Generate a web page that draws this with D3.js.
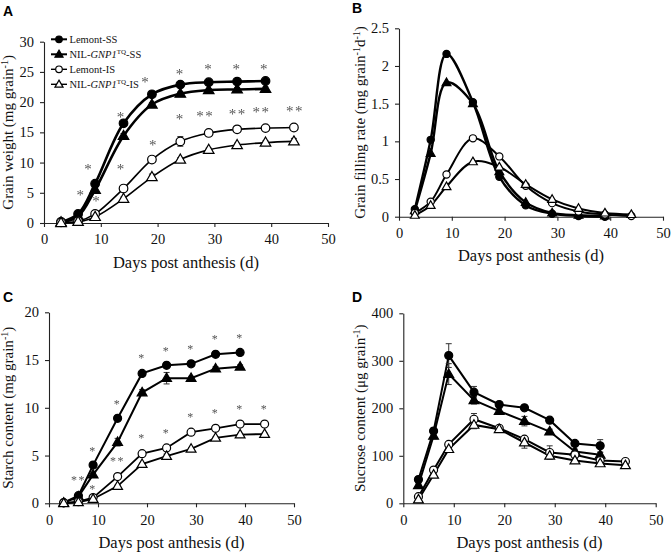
<!DOCTYPE html>
<html><head><meta charset="utf-8">
<script src="https://cdn.jsdelivr.net/npm/d3@7"></script>
<style>body{margin:0;background:#fff}svg{display:block}</style>
</head><body>
<script>
// ---------- DATA ----------
const days = [3, 6, 9, 14, 19, 24, 29, 34, 39, 44];
const seriesNames = ["Lemont-SS", "NIL-SS", "Lemont-IS", "NIL-IS"];

// A: grain weight (mg grain-1)
const weightLemontSS = [0.2, 1.5, 6.5, 16.5, 21.3, 22.9, 23.3, 23.4, 23.5, null];
const weightNilSS    = [0.1, 1.1, 5.5, 14.4, 19.6, 21.4, 22.0, 22.1, 22.2, null];
const weightLemontIS = [0.1, 0.3, 1.5, 5.7, 10.5, 13.5, 14.9, 15.5, 15.7, 15.8];
const weightNilIS    = [0.0, 0.2, 1.0, 4.0, 7.6, 10.5, 12.1, 12.9, 13.3, 13.5];
const weightErrLemontSS = [0.2, 0.2, 0.3, 0.3, 0.3, 0.3, 0.2, 0.3, 0.3, null];
const weightErrNilSS    = [0.1, 0.2, 0.3, 0.4, 0.3, 0.3, 0.2, 0.3, 0.3, null];
const weightErrLemontIS = [0.1, 0.1, 0.2, 0.3, 0.3, 0.8, 0.3, 0.3, 0.3, 0.4];
const weightErrNilIS    = [0.1, 0.1, 0.2, 0.3, 0.5, 0.3, 0.3, 0.3, 0.3, 0.5];
const weightStarDays = [6.5, 7.9, 9.3, 13.6, 13.6, 17.9, 19.3, 24, 24, 29, 28.4, 34, 34.1, 38.8, 38.3, 44.2];
const weightStarVals = [5.1, 9.4, 4.1, 17.9, 9.4, 23.7, 13.3, 25.0, 17.6, 25.9, 18.2, 25.9, 18.5, 25.9, 18.7, 19.0];
const weightStarText = ["*","*","*","*","*","*","*","*","*","*","**","*","**","*","**","**"];

// B: grain filling rate (mg grain-1 d-1)
const rateLemontSS = [0.10, 1.02, 2.16, 1.52, 0.53, 0.15, 0.04, 0.01, 0.00, null];
const rateNilSS    = [0.08, 0.84, 1.78, 1.50, 0.60, 0.19, 0.05, 0.02, 0.01, null];
const rateLemontIS = [0.05, 0.20, 0.56, 1.04, 0.80, 0.41, 0.18, 0.07, 0.03, 0.01];
const rateNilIS    = [0.02, 0.15, 0.40, 0.73, 0.66, 0.43, 0.23, 0.11, 0.05, 0.03];

// C: starch content (mg grain-1)
const starchLemontSS = [0.07, 0.8, 4.0, 8.9, 13.6, 14.45, 14.6, 15.6, 15.8, null];
const starchNilSS    = [0.05, 0.7, 3.0, 6.4, 11.6, 13.1, 13.1, 14.1, 14.3, null];
const starchLemontIS = [0.05, 0.17, 0.6, 2.8, 5.2, 5.8, 7.45, 7.85, 8.3, 8.3];
const starchNilIS    = [0.0, 0.1, 0.45, 1.8, 4.1, 4.95, 5.7, 6.85, 7.2, 7.25];
const starchErrLemontSS = [0.1, 0.1, 0.2, 0.2, 0.2, 0.2, 0.2, 0.2, 0.2, null];
const starchErrNilSS    = [0.1, 0.1, 0.2, 0.4, 0.3, 0.6, 0.2, 0.2, 0.2, null];
const starchErrLemontIS = [0.0, 0.1, 0.1, 0.1, 0.1, 0.2, 0.1, 0.1, 0.1, 0.1];
const starchErrNilIS    = [0.0, 0.1, 0.1, 0.1, 0.1, 0.2, 0.1, 0.1, 0.1, 0.1];
const starchStarDays = [6, 9, 9, 14, 14, 19, 19, 24, 24, 29, 29, 34, 34, 39, 39, 44];
const starchStarVals = [2.7, 5.7, 1.7, 4.6, 10.6, 15.4, 7.0, 16.2, 7.6, 16.4, 9.25, 17.4, 9.7, 17.5, 10.05, 10.05];
const starchStarText = ["**","*","*","**","*","*","*","*","*","*","*","*","*","*","*","*"];

// D: sucrose content (µg grain-1)
const sucroseLemontSS = [50, 152, 311, 234, 208, 201, 175, 126, 121, null];
const sucroseNilSS    = [38, 142, 272, 217, 194, 173, 151, 109, 102, null];
const sucroseLemontIS = [14, 70, 124, 177, 158, 135, 107, 102, 90, 88];
const sucroseNilIS    = [8, 60, 114, 165, 156, 128, 100, 90, 84, 80];
const sucroseErrLemontSS = [4, 6, 25, 12, 5, 5, 6, 5, 13, null];
const sucroseErrNilSS    = [3, 6, 22, 8, 6, 10, 5, 5, 5, null];
const sucroseErrLemontIS = [3, 5, 5, 12, 5, 5, 14, 5, 5, 4];
const sucroseErrNilIS    = [2, 4, 5, 8, 5, 12, 7, 5, 5, 4];

const xTicks = [0, 10, 20, 30, 40, 50];
const yTicksA = [0, 5, 10, 15, 20, 25, 30];
const yTicksB = [0, 0.5, 1, 1.5, 2, 2.5];
const yTicksC = [0, 5, 10, 15, 20];
const yTicksD = [0, 100, 200, 300, 400];

// ---------- DRAW ----------
const W = 671, H = 553;
const SERIF = "'Liberation Serif','Times New Roman',Times,serif";
const SANS = "'Liberation Sans',Arial,Helvetica,sans-serif";
const svg = d3.select("body").append("svg").attr("width", W).attr("height", H)
  .attr("font-family", SERIF);
// identity filter -> grayscale anti-aliasing for the gray asterisks
svg.append("defs").append("filter").attr("id", "flat")
  .append("feOffset").attr("dx", 0).attr("dy", 0);

const styles = [
  {fill: "#000", shape: "circle", heavy: true},
  {fill: "#000", shape: "triangle", heavy: true},
  {fill: "#fff", shape: "circle", heavy: false},
  {fill: "#fff", shape: "triangle", heavy: false}
];

function drawPanel(p) {
  const x = d3.scaleLinear().domain([0, 50]).range([p.x0, p.x1]);
  const y = d3.scaleLinear().domain([0, p.ymax]).range([p.y0, p.y1]);
  const g = svg.append("g");

  const xa = g.append("g").attr("transform", `translate(0,${p.y0})`)
    .call(d3.axisBottom(x).tickValues(xTicks).tickSize(4).tickPadding(7).tickSizeOuter(0).tickFormat(d3.format("~g")));
  const ya = g.append("g").attr("transform", `translate(${p.x0},0)`)
    .call(d3.axisLeft(y).tickValues(p.yticks).tickSize(4).tickPadding(6).tickSizeOuter(0).tickFormat(d3.format("~g")));
  [xa, ya].forEach(a => {
    a.attr("font-family", SERIF).attr("font-size", 14.5);
    a.selectAll("text").attr("font-family", SERIF).attr("font-size", 14.5).attr("fill", "#111");
    a.selectAll("line,path").attr("stroke", "#222").attr("stroke-width", 1.1);
  });

  // axis titles
  g.append("text").attr("x", (p.x0 + p.x1) / 2).attr("y", p.y0 + 44.5)
    .attr("text-anchor", "middle").attr("font-size", 16.5).attr("fill", "#111")
    .text("Days post anthesis (d)");
  const yt = g.append("text")
    .attr("transform", `translate(${p.ytx},${(p.y0 + p.y1) / 2}) rotate(-90)`)
    .attr("text-anchor", "middle").attr("font-size", 15).attr("fill", "#111");
  p.ytitle.forEach(part => {
    const t = yt.append("tspan").text(part.t);
    if (part.sup) t.attr("baseline-shift", "super").attr("font-size", 10);
  });

  // panel letter
  svg.append("text").attr("x", p.lx).attr("y", p.ly).attr("font-family", SANS)
    .attr("font-weight", "bold").attr("font-size", 14).text(p.letter);

  const curve = p.smooth ? d3.curveCatmullRom.alpha(0.5) : d3.curveLinear;

  p.series.forEach((vals, i) => {
    const pts = days.map((d, k) => ({d, v: vals[k], e: p.errs ? p.errs[i][k] : null}))
      .filter(o => o.v != null);
    const st = styles[i];
    pts.filter(o => o.e).forEach(o => {
      const cx = x(o.d), yT = y(o.v + o.e), yB = y(Math.max(0, o.v - o.e));
      g.append("line").attr("x1", cx).attr("x2", cx).attr("y1", yT).attr("y2", yB)
        .attr("stroke", "#333").attr("stroke-width", 1);
      [yT, yB].forEach(yy => g.append("line").attr("x1", cx - 3).attr("x2", cx + 3)
        .attr("y1", yy).attr("y2", yy).attr("stroke", "#333").attr("stroke-width", 1));
    });
    g.append("path").datum(pts)
      .attr("d", d3.line().x(o => x(o.d)).y(o => y(o.v)).curve(curve))
      .attr("fill", "none").attr("stroke", "#000")
      .attr("stroke-width", st.heavy ? p.lwHeavy : p.lwLight);
  });
  p.series.forEach((vals, i) => {
    const st = styles[i];
    const pts = days.map((d, k) => ({d, v: vals[k]})).filter(o => o.v != null);
    pts.forEach(o => drawMarker(g, x(o.d), y(o.v), st, p.ms));
  });

  if (p.stars) {
    const sg = g.append("g").attr("filter", "url(#flat)");
    p.stars.days.forEach((d, k) => {
      sg.append("text").attr("x", x(d)).attr("y", y(p.stars.vals[k]) + p.stars.fs * 0.5)
        .attr("text-anchor", "middle").attr("font-size", p.stars.fs)
        .attr("fill", "#555").attr("letter-spacing", 1.5).text(p.stars.text[k]);
    });
  }
  return {x, y, g};
}

function drawMarker(g, cx, cy, st, ms) {
  if (st.shape === "circle") {
    g.append("circle").attr("cx", cx).attr("cy", cy).attr("r", ms)
      .attr("fill", st.fill).attr("stroke", "#000").attr("stroke-width", 1.2);
  } else {
    const size = ms * ms * 2.6;
    g.append("path").attr("d", d3.symbol(d3.symbolTriangle, size)())
      .attr("transform", `translate(${cx},${cy + 0.5})`)
      .attr("fill", st.fill).attr("stroke", "#000").attr("stroke-width", 1.2);
  }
}

drawPanel({
  letter: "A", lx: 3, ly: 16,
  x0: 44, x1: 328, y0: 223, y1: 41.7, ymax: 30, yticks: yTicksA, ytx: 13,
  ytitle: [{t: "Grain weight (mg grain"}, {t: "-1", sup: true}, {t: ")"}],
  series: [weightLemontSS, weightNilSS, weightLemontIS, weightNilIS],
  errs: [weightErrLemontSS, weightErrNilSS, weightErrLemontIS, weightErrNilIS],
  smooth: true, lwHeavy: 2.6, lwLight: 1.6, ms: 4.3,
  stars: {days: weightStarDays, vals: weightStarVals, text: weightStarText, fs: 15}
});

drawPanel({
  letter: "B", lx: 352, ly: 13,
  x0: 399, x1: 663, y0: 216.7, y1: 28.3, ymax: 2.5, yticks: yTicksB, ytx: 365,
  ytitle: [{t: "Grain filling rate (mg grain"}, {t: "-1", sup: true}, {t: "d"}, {t: "-1", sup: true}, {t: ")"}],
  series: [rateLemontSS, rateNilSS, rateLemontIS, rateNilIS],
  errs: null, smooth: true, lwHeavy: 2.4, lwLight: 2.0, ms: 3.6
});

drawPanel({
  letter: "C", lx: 3, ly: 302,
  x0: 49, x1: 294, y0: 503.3, y1: 312.3, ymax: 20, yticks: yTicksC, ytx: 13,
  ytitle: [{t: "Starch content (mg grain"}, {t: "-1", sup: true}, {t: ")"}],
  series: [starchLemontSS, starchNilSS, starchLemontIS, starchNilIS],
  errs: [starchErrLemontSS, starchErrNilSS, starchErrLemontIS, starchErrNilIS],
  smooth: false, lwHeavy: 2.0, lwLight: 1.8, ms: 4,
  stars: {days: starchStarDays, vals: starchStarVals, text: starchStarText, fs: 12}
});

drawPanel({
  letter: "D", lx: 352, ly: 302,
  x0: 403.3, x1: 655.7, y0: 503.3, y1: 313.3, ymax: 400, yticks: yTicksD, ytx: 365,
  ytitle: [{t: "Sucrose content (\u03bcg grain"}, {t: "-1", sup: true}, {t: ")"}],
  series: [sucroseLemontSS, sucroseNilSS, sucroseLemontIS, sucroseNilIS],
  errs: [sucroseErrLemontSS, sucroseErrNilSS, sucroseErrLemontIS, sucroseErrNilIS],
  smooth: false, lwHeavy: 2.0, lwLight: 2.0, ms: 4
});

// legend (panel A)
const legendLabels = [
  [{t: "Lemont-SS"}],
  [{t: "NIL-"}, {t: "GNP1", it: true}, {t: "TQ", sup: true}, {t: "-SS"}],
  [{t: "Lemont-IS"}],
  [{t: "NIL-"}, {t: "GNP1", it: true}, {t: "TQ", sup: true}, {t: "-IS"}]
];
const leg = svg.append("g");
legendLabels.forEach((parts, i) => {
  const yy = 39.3 + i * 15;
  const st = styles[i];
  leg.append("line").attr("x1", 51).attr("x2", 67).attr("y1", yy).attr("y2", yy)
    .attr("stroke", "#000").attr("stroke-width", st.heavy ? 2 : 1.4);
  drawMarker(leg, 59, yy, st, 3.3);
  const t = leg.append("text").attr("x", 69.5).attr("y", yy + 3.5).attr("font-size", 10.5).attr("fill", "#111");
  parts.forEach(pt => {
    const s = t.append("tspan").text(pt.t);
    if (pt.it) s.attr("font-style", "italic");
    if (pt.sup) s.attr("baseline-shift", "super").attr("font-size", 7);
  });
});
</script>
</body></html>
